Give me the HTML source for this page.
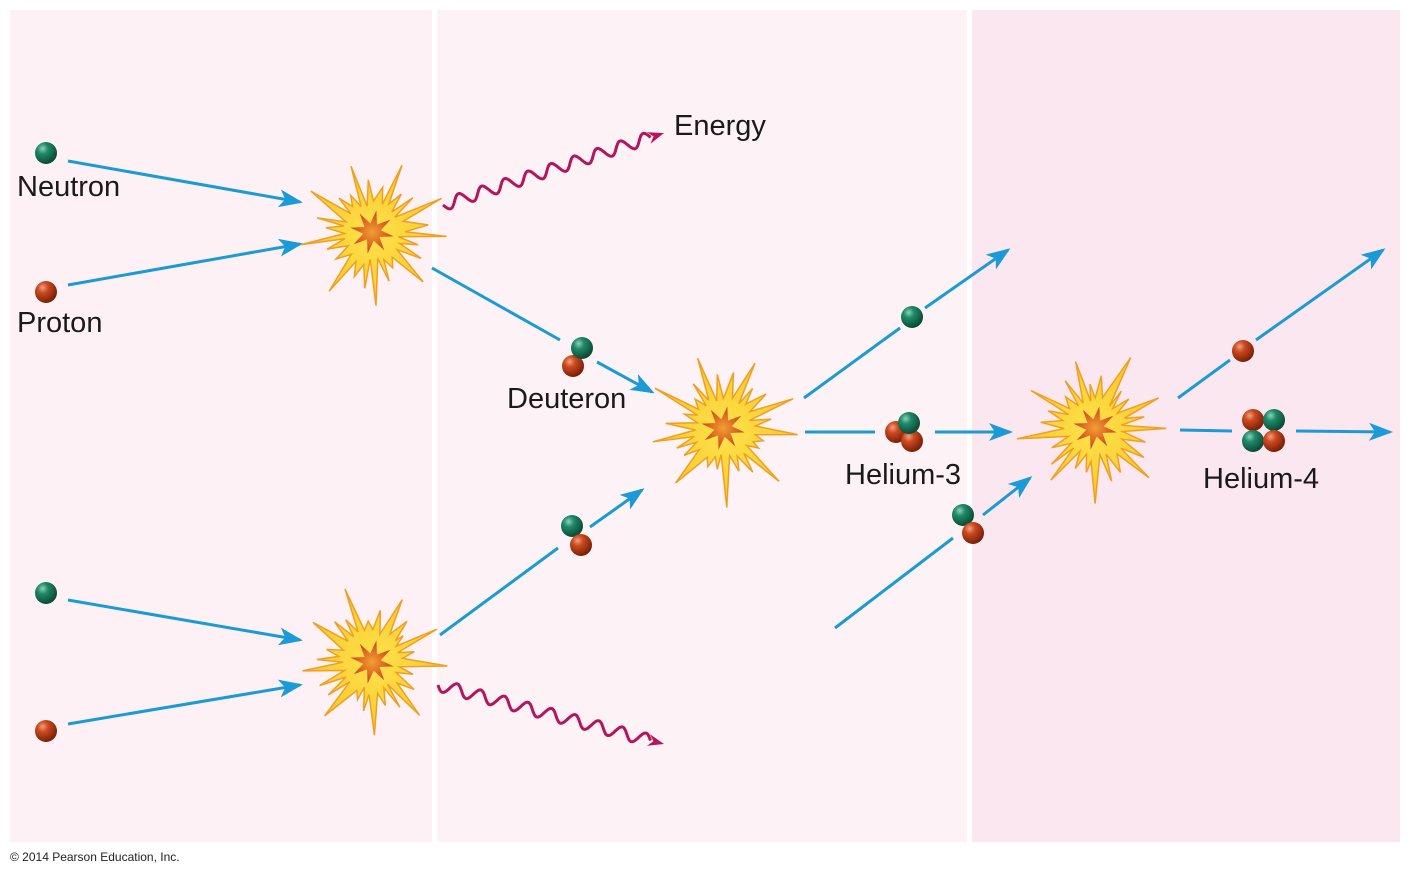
<!DOCTYPE html>
<html><head><style>
body{margin:0;background:#fff;width:1411px;height:877px;overflow:hidden;font-family:"Liberation Sans",sans-serif}
</style></head><body>
<svg id="s" width="1411" height="877" xmlns="http://www.w3.org/2000/svg" font-family="Liberation Sans, sans-serif">
<defs>
<radialGradient id="g" cx="35%" cy="30%" r="70%"><stop offset="0" stop-color="#8fd0b8"/><stop offset="0.35" stop-color="#1f8a68"/><stop offset="1" stop-color="#0b4a36"/></radialGradient>
<radialGradient id="r" cx="35%" cy="30%" r="70%"><stop offset="0" stop-color="#f0a080"/><stop offset="0.35" stop-color="#cc4a1f"/><stop offset="1" stop-color="#7a2008"/></radialGradient>
<radialGradient id="c" cx="50%" cy="50%" r="50%"><stop offset="0" stop-color="#f0a030"/><stop offset="1" stop-color="#d04020"/></radialGradient>
<radialGradient id="y" cx="50%" cy="50%" r="50%"><stop offset="0" stop-color="#fde24a"/><stop offset="0.6" stop-color="#fbd23a"/><stop offset="1" stop-color="#f9c22e"/></radialGradient>
<marker id="a" markerWidth="8" markerHeight="6" refX="7" refY="3" orient="auto" markerUnits="strokeWidth"><path d="M0,0 L8,3 L0,6 L2,3z" fill="#1a9ad6"/></marker>
</defs>
<rect x="10" y="10" width="422" height="832" fill="#fdf1f5"/>
<rect x="437" y="10" width="530" height="832" fill="#fdf2f6"/>
<rect x="972" y="10" width="428" height="832" fill="#fbe7ef"/>
<g id="bursts"></g>
<g stroke="#1a9ad6" stroke-width="3" fill="none">
<line x1="68" y1="161" x2="300" y2="202" marker-end="url(#a)"/>
<line x1="68" y1="285" x2="300" y2="244" marker-end="url(#a)"/>
<line x1="432" y1="268" x2="560" y2="340"/>
<line x1="597" y1="362" x2="652" y2="392" marker-end="url(#a)"/>
<line x1="68" y1="600" x2="300" y2="640" marker-end="url(#a)"/>
<line x1="68" y1="724" x2="300" y2="685" marker-end="url(#a)"/>
<line x1="440" y1="635" x2="558" y2="548"/>
<line x1="590" y1="527" x2="642" y2="490" marker-end="url(#a)"/>
<line x1="804" y1="398" x2="900" y2="328"/>
<line x1="925" y1="308" x2="1008" y2="250" marker-end="url(#a)"/>
<line x1="805" y1="432" x2="875" y2="432"/>
<line x1="935" y1="432" x2="1010" y2="432" marker-end="url(#a)"/>
<line x1="835" y1="628" x2="953" y2="538"/>
<line x1="983" y1="515" x2="1030" y2="478" marker-end="url(#a)"/>
<line x1="1178" y1="398" x2="1230" y2="360"/>
<line x1="1256" y1="340" x2="1383" y2="250" marker-end="url(#a)"/>
<line x1="1180" y1="430" x2="1232" y2="431"/>
<line x1="1296" y1="431" x2="1390" y2="432" marker-end="url(#a)"/>
</g>
<g id="waves" stroke="#b5155a" stroke-width="3" fill="none"></g>
<g>
<circle cx="46" cy="153" r="11" fill="url(#g)"/>
<circle cx="46" cy="292" r="11" fill="url(#r)"/>
<circle cx="46" cy="593" r="11" fill="url(#g)"/>
<circle cx="46" cy="731" r="11" fill="url(#r)"/>
<circle cx="573" cy="366" r="11" fill="url(#r)"/>
<circle cx="582" cy="348" r="11" fill="url(#g)"/>
<circle cx="572" cy="526" r="11" fill="url(#g)"/>
<circle cx="581" cy="545" r="11" fill="url(#r)"/>
<circle cx="912" cy="317" r="11" fill="url(#g)"/>
<circle cx="896" cy="432" r="11" fill="url(#r)"/>
<circle cx="912" cy="441" r="11" fill="url(#r)"/>
<circle cx="909" cy="423" r="11" fill="url(#g)"/>
<circle cx="963" cy="515" r="11" fill="url(#g)"/>
<circle cx="973" cy="533" r="11" fill="url(#r)"/>
<circle cx="1243" cy="351" r="11" fill="url(#r)"/>
<circle cx="1253" cy="420" r="11" fill="url(#r)"/>
<circle cx="1274" cy="420" r="11" fill="url(#g)"/>
<circle cx="1253" cy="441" r="11" fill="url(#g)"/>
<circle cx="1274" cy="441" r="11" fill="url(#r)"/>
</g>
<g font-size="29" fill="#1a1a1a">
<text x="674" y="135">Energy</text>
<text x="17" y="196">Neutron</text>
<text x="17" y="332">Proton</text>
<text x="507" y="408">Deuteron</text>
<text x="845" y="484">Helium-3</text>
<text x="1203" y="488">Helium-4</text>
</g>
<text x="10" y="861" font-size="12" fill="#222">© 2014 Pearson Education, Inc.</text>
</svg>
<script>
var NS="http://www.w3.org/2000/svg";
function rnd(seed){return function(){seed=(seed*9301+49297)%233280;return seed/233280;}}
function burst(cx,cy,seed){
 var R=rnd(seed),g=document.getElementById('bursts'),n=26,p=[],p2=[];
 for(var i=0;i<n;i++){
  var a=i/n*2*Math.PI+R()*0.12, big=(i%3==0);
  var ro=big?68+R()*12:40+R()*18;
  p.push([cx+Math.cos(a)*ro,cy+Math.sin(a)*ro]);
  var a2=a+Math.PI/n;var ri=26+R()*8;
  p.push([cx+Math.cos(a2)*ri,cy+Math.sin(a2)*ri]);
 }
 var e=document.createElementNS(NS,'polygon');
 e.setAttribute('points',p.map(function(q){return q[0].toFixed(1)+','+q[1].toFixed(1)}).join(' '));
 e.setAttribute('fill','url(#y)');e.setAttribute('stroke','#f0a020');e.setAttribute('stroke-width','1.5');g.appendChild(e);
 for(var i=0;i<16;i++){var a=i/16*2*Math.PI+0.2,ro=(i%2)?9:22;p2.push((cx+Math.cos(a)*ro).toFixed(1)+','+(cy+Math.sin(a)*ro).toFixed(1));}
 var s=document.createElementNS(NS,'polygon');s.setAttribute('points',p2.join(' '));s.setAttribute('fill','url(#c)');g.appendChild(s);
}
burst(372,232,7);burst(723,428,13);burst(1095,428,21);burst(372,662,31);
function wave(x1,y1,x2,y2){
 var dx=x2-x1,dy=y2-y1,L=Math.sqrt(dx*dx+dy*dy),ux=dx/L,uy=dy/L,nx=-uy,ny=ux,d='',N=300,LL=L-14;
 for(var i=0;i<=N;i++){var t=i/N*LL,w=Math.sin(t/LL*9*2*Math.PI)*6;var x=x1+ux*t+nx*w,y=y1+uy*t+ny*w;d+=(i?'L':'M')+x.toFixed(1)+','+y.toFixed(1);}
 var e=document.createElementNS(NS,'path');e.setAttribute('d',d);document.getElementById('waves').appendChild(e);
 var bx=x1+ux*(L-16),by=y1+uy*(L-16);
 var h=document.createElementNS(NS,'polygon');
 h.setAttribute('points',[x2+','+y2,(bx+nx*6).toFixed(1)+','+(by+ny*6).toFixed(1),(x1+ux*(L-11)).toFixed(1)+','+(y1+uy*(L-11)).toFixed(1),(bx-nx*6).toFixed(1)+','+(by-ny*6).toFixed(1)].join(' '));
 h.setAttribute('fill','#b5155a');h.setAttribute('stroke','none');document.getElementById('waves').appendChild(h);
}
wave(443,205,664,133);wave(438,685,664,744);
</script>
</body></html>
